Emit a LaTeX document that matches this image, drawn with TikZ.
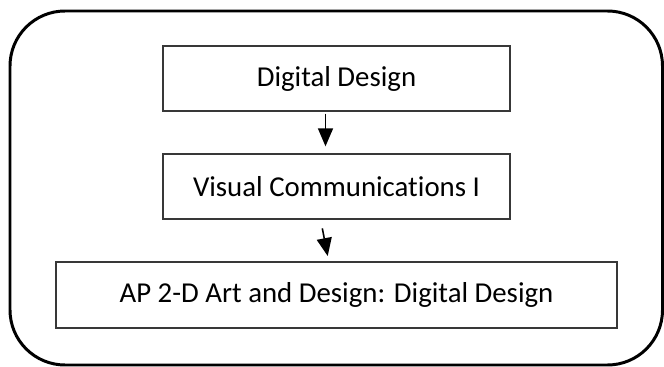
\documentclass[tikz,border=0pt]{standalone}
\usepackage{fontspec}
\setmainfont[Ligatures=NoCommon]{Carlito}
\usetikzlibrary{arrows.meta,positioning}
\tikzset{course/.style={draw=black!78, line width=0.75pt, fill=white, minimum width=6.94cm, minimum height=1.3cm, inner sep=0pt, font=\fontsize{16.4}{19}\selectfont}}

\begin{document}
\begin{tikzpicture}[>={Triangle[width=0.3cm,length=0.36cm]}]
		\useasboundingbox (0,0) rectangle (13.28,-7.34);
		\draw[line width=1.7pt, rounded corners=1.1cm] (0.2,-0.22) rectangle (13.25,-7.3);

		\node[course] (design) at (6.73,-1.57) {Digital Design};
		\node[course] (viscomm) at (6.73,-3.73) {Visual Communications I};
		\node[course, minimum width=11.22cm, minimum height=1.32cm] (apart) at (6.73,-5.9) {AP 2-D Art and Design: Digital Design};

		\draw[->, line width=0.9pt] ([xshift=-0.22cm,yshift=-0.04cm]design.south) -- ([xshift=-0.22cm,yshift=0.14cm]viscomm.north);
		\draw[->, line width=0.9pt] ([xshift=-0.284cm,yshift=-0.174cm]viscomm.south) -- ([xshift=-0.176cm,yshift=0.106cm]apart.north);
	\end{tikzpicture}
\end{document}
